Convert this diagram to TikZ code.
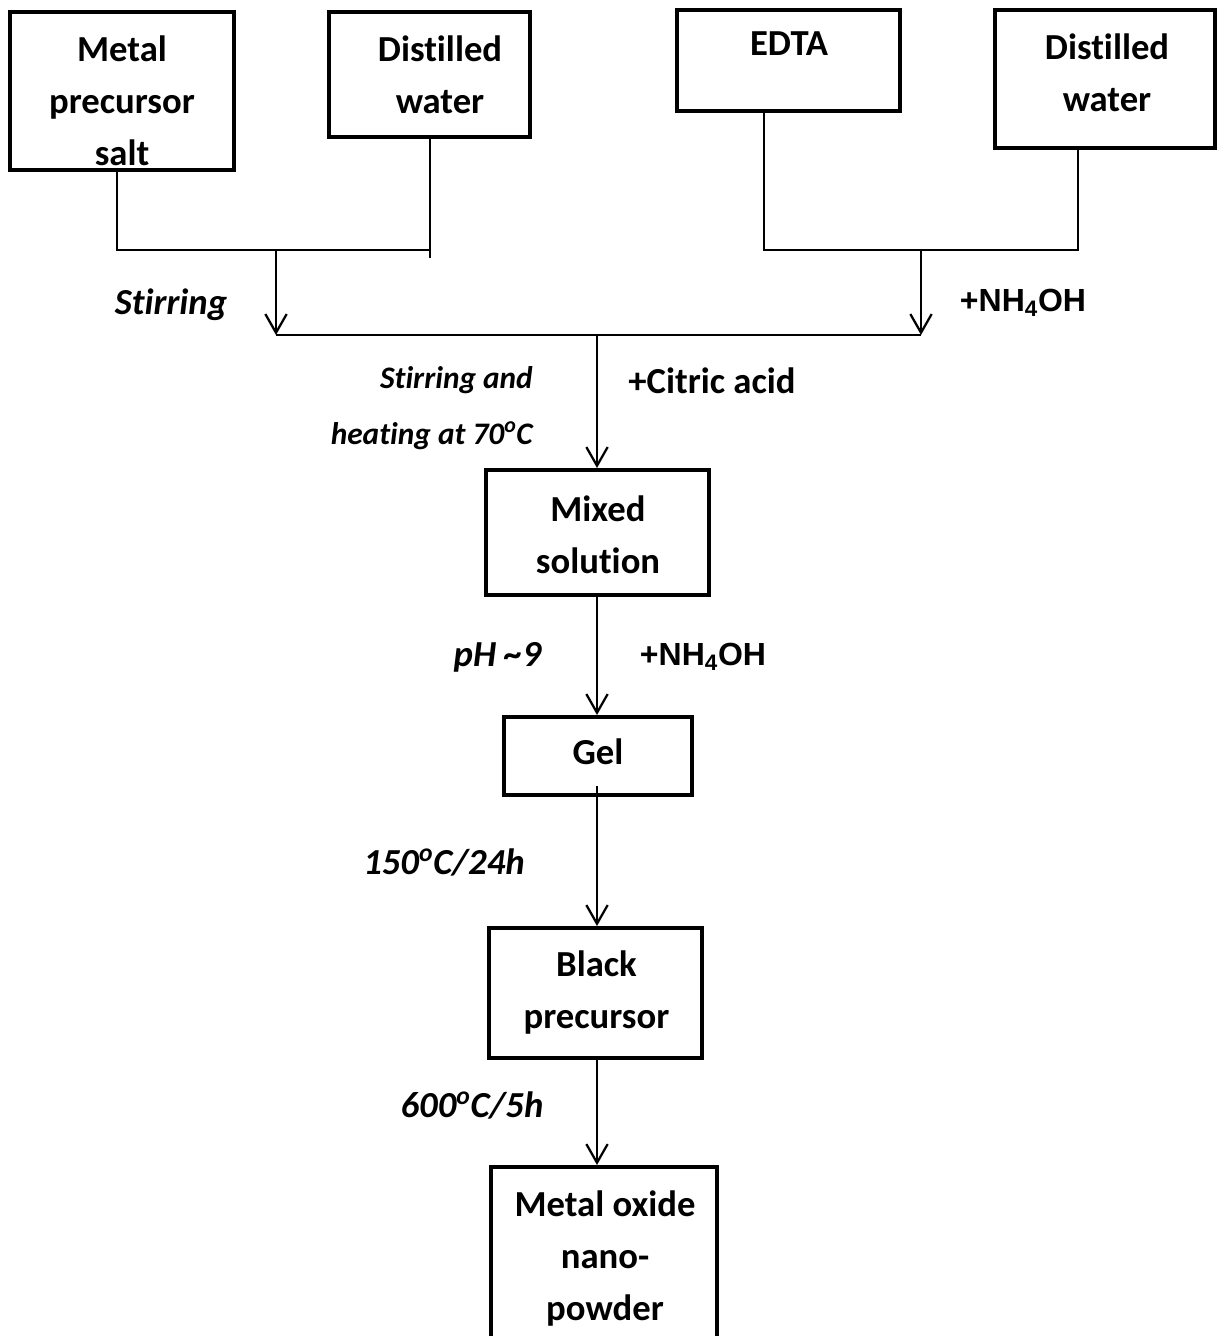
\documentclass[tikz,border=0pt]{standalone}
\usepackage{fontspec}
\setmainfont{Carlito}[Ligatures=NoCommon]
\newfontfamily\arialfont{Liberation Sans}
\usetikzlibrary{arrows.meta}
\tikzset{
  box/.style={draw, line width=3pt, rectangle, inner sep=0pt},
  txt/.style={font=\bfseries\fontsize{27.5}{39}\selectfont, align=center, inner sep=0pt},
  atxt/.style={font=\arialfont\bfseries\fontsize{24}{30}\selectfont, align=center, inner sep=0pt},
  itxt/.style={font=\bfseries\itshape\fontsize{27.5}{39}\selectfont, align=center, inner sep=0pt},
  stxt/.style={font=\bfseries\itshape\fontsize{23.5}{42}\selectfont, align=right, inner sep=0pt},
  conn/.style={line width=1.7pt},
  arr/.style={line width=1.7pt, -{Straight Barb[length=14pt,width=16pt,line width=1.7pt]}}
}
\begin{document}
\begin{tikzpicture}[x=0.75pt,y=-0.75pt]
\useasboundingbox (0,0) rectangle (1225,1336);
\clip (0,0) rectangle (1225,1336);
% boxes
\node[box, minimum width=224*0.75pt, minimum height=158*0.75pt] (b1) at (122,91) {};
\node[box, minimum width=201*0.75pt, minimum height=125*0.75pt] (b2) at (429.5,74.5) {};
\node[box, minimum width=223*0.75pt, minimum height=101*0.75pt] (b3) at (788.5,60.5) {};
\node[box, minimum width=220*0.75pt, minimum height=138*0.75pt] (b4) at (1105,79) {};
\node[box, minimum width=223*0.75pt, minimum height=125*0.75pt] (mix) at (597.5,532.5) {};
\node[box, minimum width=188*0.75pt, minimum height=78*0.75pt] (gel) at (598,756) {};
\node[box, minimum width=213*0.75pt, minimum height=130*0.75pt] (blk) at (595.5,993) {};
\node[box, minimum width=226*0.75pt, minimum height=240*0.75pt] (mox) at (604,1287) {};
% box texts
\node[txt] (b1t) at (122,101) {Metal\\precursor\\salt};
\node[txt] (b2t) at (440,75) {Distilled\\water};
\node[txt] (b3t) at (789,44) {EDTA};
\node[txt] (b4t) at (1107,73) {Distilled\\water};
\node[txt] (mixt) at (598,535) {Mixed\\solution};
\node[txt] (gelt) at (598,752) {Gel};
\node[txt] (blkt) at (596.5,993) {Black\\precursor};
\node[txt] (moxt) at (605,1259) {Metal oxide\\nano-\\powder};
% junction coordinates
\coordinate (j1) at (117,250);
\coordinate (j2) at (430,250);
\coordinate (j2e) at (430,258);
\coordinate (m1) at (276,250);
\coordinate (a1) at (276,335);
\coordinate (j3) at (764,250);
\coordinate (j4) at (1078,250);
\coordinate (m2) at (921,250);
\coordinate (a2) at (921,335);
\coordinate (c1) at (597,335);
% connectors
\draw[conn] (b1.south -| j1) -- (j1) -- (j2);
\draw[conn] (b2.south -| j2) -- (j2e);
\draw[arr] (m1) -- (a1);
\draw[conn] (b3.south -| j3) -- (j3) -- (j4) -- (b4.south -| j4);
\draw[arr] (m2) -- (a2);
\draw[conn] (a1) -- (a2);
\draw[arr] (c1) -- (c1 |- mix.north);
\draw[arr] (c1 |- mix.south) -- (c1 |- gel.north);
\draw[arr] ([yshift=8pt]c1 |- gel.south) -- (c1 |- blk.north);
\draw[arr] (c1 |- blk.south) -- (c1 |- mox.north);
% labels
\node[itxt] (l1) at (171,305) {Stirring};
\node[atxt] (l2) at (1023,303) {+NH\textsubscript{4}OH};
\node[stxt, anchor=east] (l3) at (533,408) {Stirring and\\heating at 70\textsuperscript{o}C};
\node[txt] (l4) at (712,381) {+Citric acid};
\node[itxt] (l5) at (497.5,657) {pH \textasciitilde9};
\node[atxt] (l6) at (703,657) {+NH\textsubscript{4}OH};
\node[itxt] (l7) at (444,862) {150\textsuperscript{o}C/24h};
\node[itxt] (l8) at (472,1105) {600\textsuperscript{o}C/5h};
\end{tikzpicture}
\end{document}
